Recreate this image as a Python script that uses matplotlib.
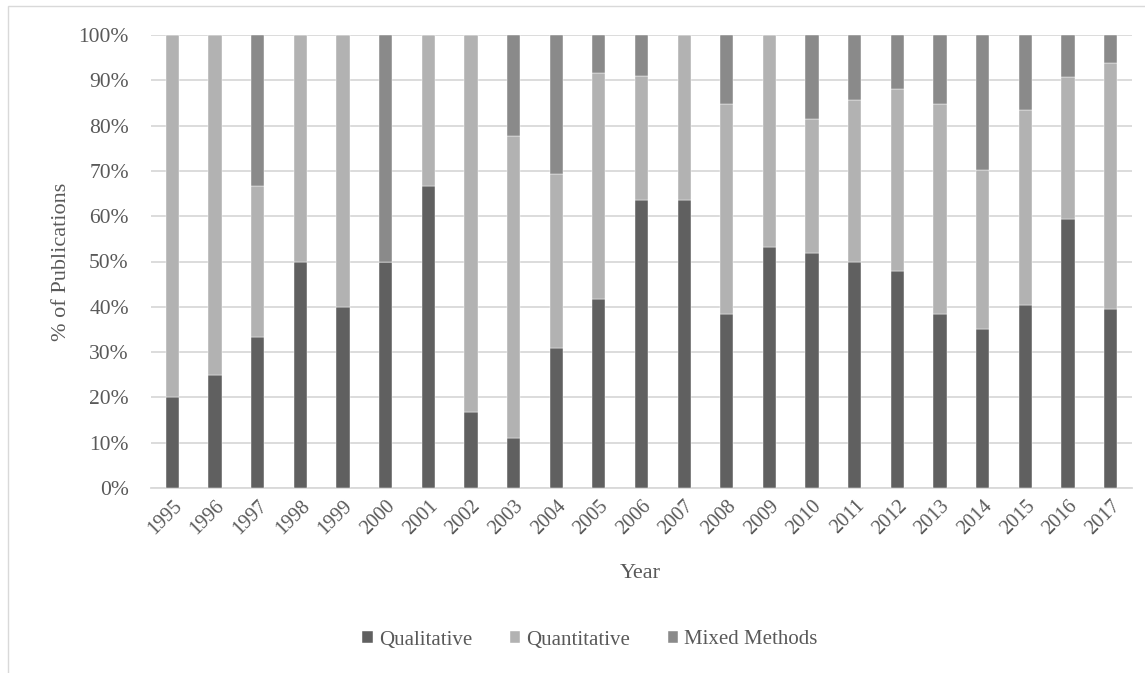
import matplotlib
matplotlib.use("Agg")
import matplotlib.pyplot as plt
from matplotlib.patches import Rectangle
from matplotlib.ticker import FuncFormatter, MultipleLocator
import numpy as np

years = [str(y) for y in range(1995, 2018)]
qualitative = [20.0, 25.0, 33.3, 50.0, 40.0, 50.0, 66.7, 16.7, 11.1, 30.8, 41.7, 63.6,
               63.6, 38.5, 53.3, 51.9, 50.0, 48.0, 38.5, 35.1, 40.4, 59.3, 39.5]
quantitative = [80.0, 75.0, 33.3, 50.0, 60.0, 0.0, 33.3, 83.3, 66.7, 38.5, 50.0, 27.3,
                36.4, 46.2, 46.7, 29.6, 35.7, 40.0, 46.2, 35.2, 43.0, 31.4, 54.3]
mixed = [0.0, 0.0, 33.3, 0.0, 0.0, 50.0, 0.0, 0.0, 22.2, 30.8, 8.3, 9.1,
         0.0, 15.4, 0.0, 18.5, 14.3, 12.0, 15.4, 29.7, 16.6, 9.3, 6.2]
series_names = ["Qualitative", "Quantitative", "Mixed Methods"]
colors = ["#606060", "#b2b2b2", "#8a8a8a"]

plt.rcParams['font.family'] = ['Liberation Serif', 'DejaVu Serif']
txt = "#595959"

fig = plt.figure(figsize=(11.45, 6.73), dpi=100)
ax = fig.add_axes([151/1145, 1-488/673, (1132-151)/1145, (488-35)/673])

x = np.arange(len(years))
q = np.array(qualitative); n = np.array(quantitative); m = np.array(mixed)
w = 0.31
ax.bar(x, q, w, color=colors[0], label=series_names[0], edgecolor='#ffffff', linewidth=0.3, zorder=3)
ax.bar(x, n, w, bottom=q, color=colors[1], label=series_names[1], edgecolor='#ffffff', linewidth=0.3, zorder=3)
ax.bar(x, m, w, bottom=q+n, color=colors[2], label=series_names[2], edgecolor='#ffffff', linewidth=0.3, zorder=3)

ax.set_xlim(-0.5, len(years)-0.5)
ax.set_ylim(0, 100)
ax.yaxis.set_major_locator(MultipleLocator(10))
ax.yaxis.set_major_formatter(FuncFormatter(lambda v, p: f"{int(round(v))}%"))
ax.grid(axis='y', color='#d9d9d9', linewidth=1.3, zorder=0)
ax.set_axisbelow(True)
for s in ['top', 'right', 'left']:
    ax.spines[s].set_visible(False)
ax.spines['bottom'].set_color('#d9d9d9')
ax.spines['bottom'].set_linewidth(1.3)
ax.tick_params(axis='both', length=0, colors=txt)
ax.tick_params(axis='y', pad=16, labelsize=15.5)
ax.set_xticks(x)
ax.set_xticklabels(years, rotation=45, ha='right', va='top', rotation_mode='anchor')
ax.tick_params(axis='x', pad=6, labelsize=14.5)

ax.set_ylabel("% of Publications", fontsize=16, color=txt, labelpad=5)
fig.text(640/1145, 1-573/673, "Year", fontsize=16, color=txt, ha='center', va='center')

leg = fig.legend(loc='center', bbox_to_anchor=(590/1145, 1-640/673), ncol=3, frameon=False,
                 fontsize=15, handlelength=0.5, handleheight=0.5, handletextpad=0.3,
                 columnspacing=1.8, labelcolor=txt)

fig.add_artist(Rectangle((8/1145, -0.1), 2, 1-6/673+0.1, transform=fig.transFigure,
                         fill=False, edgecolor='#d9d9d9', linewidth=1.0))

fig.savefig("out.png", dpi=100)
